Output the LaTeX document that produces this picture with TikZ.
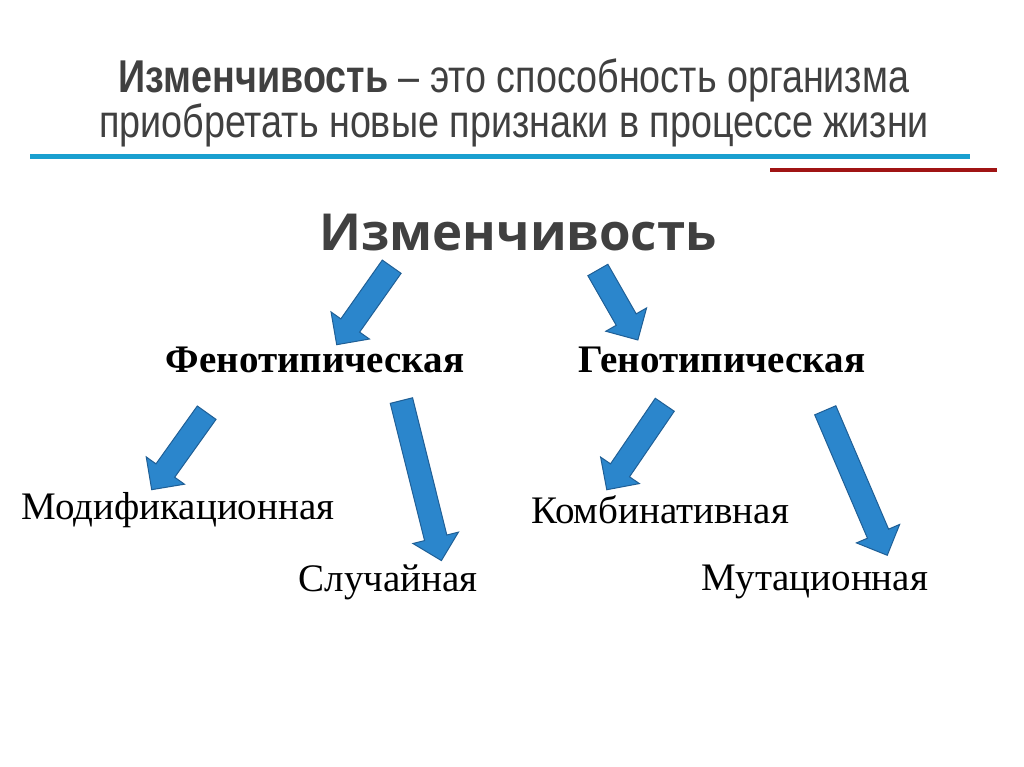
\documentclass[tikz,border=0pt]{standalone}
\usepackage{fontspec}
\setmainfont{Liberation Serif}
\newfontfamily\headfont{Liberation Sans}
\newfontfamily\bigfont{Open Sans}
\usetikzlibrary{shapes.arrows,calc}
\definecolor{txt}{HTML}{404040}
\definecolor{arrfill}{HTML}{2B86CC}
\definecolor{arrline}{HTML}{1F5F96}
\tikzset{
  x=1pt,y=-1pt,
  blk/.style={single arrow, fill=arrfill, draw=arrline, line width=1pt,
    minimum width=46pt, single arrow head extend=12pt, single arrow head indent=0pt,
    inner xsep=0pt, inner ysep=11pt, anchor=center},
  lbl/.style={font=\fontsize{39}{39}\selectfont, text=black, inner sep=0pt}
}
\begin{document}
\begin{tikzpicture}
\useasboundingbox (0,0) rectangle (1024,767);
\node[text=txt, align=center, inner sep=0pt] (title) at (514,103)
  {\scalebox{0.82}[1]{\headfont\fontsize{46}{50}\selectfont\textbf{Изменчивость} – это способность организма}\\
   \scalebox{0.82}[1]{\headfont\fontsize{46}{50}\selectfont приобретать новые признаки в процессе жизни}};
\draw[line width=5pt, color={rgb,255:red,26;green,160;blue,208}] (30,157) -- (970,157);
\draw[line width=4pt, color={rgb,255:red,160;green,20;blue,20}] (770,170) -- (997,170);
\node[text=txt, inner sep=0pt, font=\bigfont\bfseries\fontsize{51}{51}\selectfont] (izm) at (518,233) {Изменчивость};
\node[lbl, font=\bfseries\fontsize{39}{39}\selectfont] (fen) at (315,360) {Фенотипическая};
\node[lbl, font=\bfseries\fontsize{39}{39}\selectfont] (gen) at (722,360) {Генотипическая};
\node[lbl] (mod) at (178,510) {Модификационная};
\node[lbl] (slu) at (388,582) {Случайная};
\node[lbl] (kom) at (660,510) {Комбинативная};
\node[lbl] (mut) at (815,582) {Мутационная};
\path let \n1={veclen(55,78)} in node[blk, minimum height=\n1, rotate={atan2(-78,-55)}] (a1) at (367.5,301) {};
\path let \n1={veclen(40,70)} in node[blk, minimum height=\n1, rotate={atan2(-70,40)}] (a2) at (615,300) {};
\path let \n1={veclen(55,77)} in node[blk, minimum height=\n1, rotate={atan2(-77,-55)}] (a3) at (182.5,446.5) {};
\path let \n1={veclen(40,160)} in node[blk, minimum height=\n1, rotate={atan2(-160,40)}] (a4) at (420,475) {};
\path let \n1={veclen(58,85)} in node[blk, minimum height=\n1, rotate={atan2(-85,-58)}] (a5) at (639,442.5) {};
\path let \n1={veclen(62,145)} in node[blk, minimum height=\n1, rotate={atan2(-145,62)}] (a6) at (854,477.5) {};
\end{tikzpicture}
\end{document}
